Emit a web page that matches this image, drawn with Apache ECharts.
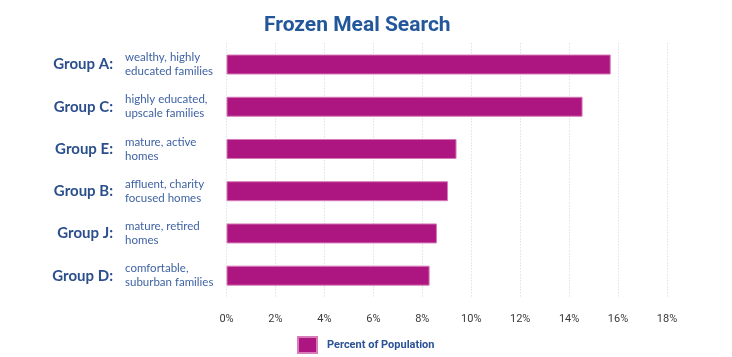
<!DOCTYPE html>
<html>
<head>
<meta charset="utf-8">
<script src="https://cdn.jsdelivr.net/npm/echarts@6/dist/echarts.min.js"></script>
<style>html,body{margin:0;padding:0;background:#fff}#c{width:732px;height:357px}</style>
</head>
<body>
<div id="c"></div>
<script>
const groups = ['Group A:', 'Group C:', 'Group E:', 'Group B:', 'Group J:', 'Group D:'];
const descriptions = [
  'wealthy, highly\neducated families',
  'highly educated,\nupscale families',
  'mature, active\nhomes',
  'affluent, charity\nfocused homes',
  'mature, retired\nhomes',
  'comfortable,\nsuburban families'
];
const values = [15.7, 14.55, 9.4, 9.05, 8.6, 8.3];
const xTicks = [0, 2, 4, 6, 8, 10, 12, 14, 16, 18];
const seriesName = 'Percent of Population';
const titleText = 'Frozen Meal Search';

const chart = echarts.init(document.getElementById('c'), null, {renderer: 'canvas'});
chart.setOption({
  animation: false,
  title: {
    text: titleText, left: 259, top: 10,
    textStyle: {fontFamily: 'Roboto', fontWeight: 'bold', fontSize: 21, color: '#23579B'}
  },
  legend: {
    data: [{name: seriesName, icon: 'rect'}], left: 292, top: 331, itemWidth: 19, itemHeight: 16,
    textStyle: {fontFamily: 'Roboto', fontWeight: 'bold', fontSize: 11, color: '#2A5296', padding: [0, 0, 0, 5]}
  },
  grid: {left: 226.5, right: 65, top: 43.4, bottom: 60.2, containLabel: false},
  xAxis: {
    type: 'value', min: 0, max: 18, interval: 2,
    axisLine: {show: false}, axisTick: {show: false},
    splitLine: {show: true, lineStyle: {type: [1, 2], color: '#C9D2E6', width: 1}},
    axisLabel: {
      margin: 17, fontFamily: 'Roboto', fontSize: 11, color: '#3a3a3a',
      formatter: v => xTicks.includes(v) ? v + '%' : ''
    }
  },
  yAxis: [
    {
      type: 'category', data: groups, inverse: true,
      axisLine: {show: false}, axisTick: {show: false}, splitLine: {show: false},
      axisLabel: {
        margin: 113.5, align: 'right', fontFamily: 'Lato', fontWeight: 'bold', fontSize: 15,
        color: '#2B4F8C', padding: [0, 0, 6, 0]
      }
    },
    {
      type: 'category', data: descriptions, inverse: true, position: 'left',
      axisLine: {show: false}, axisTick: {show: false}, splitLine: {show: false},
      axisLabel: {
        margin: 101.5, align: 'left', fontFamily: 'Lato', fontSize: 11.5, lineHeight: 14,
        color: '#3F63A3', padding: [0, 0, 5, 0]
      }
    }
  ],
  series: [{
    name: seriesName, type: 'bar', data: values, barWidth: 20, yAxisIndex: 0,
    itemStyle: {color: '#AD1680', borderColor: '#D77CB8', borderWidth: 1}
  }]
});
</script>
</body>
</html>
